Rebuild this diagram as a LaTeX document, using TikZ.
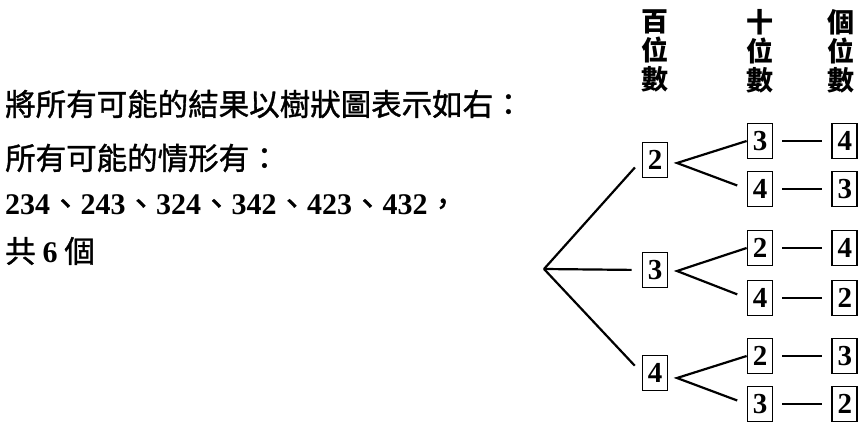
\documentclass[tikz,border=0pt]{standalone}
\usepackage{fontspec}
\setmainfont{Liberation Serif}
\newfontfamily\cjk{Noto Sans CJK TC}[FakeBold=1.2]
\newfontfamily\cjkhead{Noto Sans CJK TC}
\usetikzlibrary{positioning}

\begin{document}
\begin{tikzpicture}[x=1pt,y=-1pt]
       \newcommand{\colsep}[0]{58pt}
       \newcommand{\forksep}[0]{9pt}

       \newcommand{\num}[1]{{\rmfamily\bfseries\fontsize{30}{30}\selectfont #1}}

       \tikzstyle{digitbox} = [rectangle, draw, line width=1.8pt, minimum width=25pt, minimum height=35pt, inner sep=0pt, font=\fontsize{29}{29}\selectfont\bfseries]
       \tikzstyle{colhead}  = [align=center, inner sep=0pt, font=\cjkhead\bfseries\fontsize{27}{29}\selectfont]
       \tikzstyle{textline} = [anchor=west, inner sep=0pt, font=\cjk\fontsize{30.5}{30.5}\selectfont]
       \tikzstyle{branch}   = [line width=2.2pt, shorten >=10pt]
       \tikzstyle{link}     = [line width=2pt, shorten <=\forksep, shorten >=\forksep]

       \useasboundingbox (0,0) rectangle (864,428);

       % text on the left
       \node [textline] (intro) at (5,104) {將所有可能的結果以樹狀圖表示如右：};
       \node [textline] (cases) at (5,158) {所有可能的情形有：};
       \node [textline] (list)  at (5,205) {\num{234}、\num{243}、\num{324}、\num{342}、\num{423}、\num{432}，};
       \node [textline] (total) at (5,251) {共 \num{6} 個};

       % column heads
       \node [colhead] (hundreds) at (655,51) {百\\位\\數};
       \node [colhead] (tens)     at (760,51) {十\\位\\數};
       \node [colhead] (ones)     at (841,51) {個\\位\\數};

       \coordinate (root) at (544,269);

       % first digit 2
       \node [digitbox] (h2) at (655,160) {2};
       \coordinate (f2) at (677,163);
       \node [digitbox] (t23) at (760,141) {3};
       \node [digitbox, right = \colsep of t23] (o234) {4};
       \node [digitbox] (t24) at (760,189) {4};
       \node [digitbox, right = \colsep of t24] (o243) {3};

       % first digit 3
       \node [digitbox] (h3) at (655,270) {3};
       \coordinate (f3) at (677,271);
       \node [digitbox] (t32) at (760,248) {2};
       \node [digitbox, right = \colsep of t32] (o324) {4};
       \node [digitbox] (t34) at (760,298) {4};
       \node [digitbox, right = \colsep of t34] (o342) {2};

       % first digit 4
       \node [digitbox] (h4) at (655,373) {4};
       \coordinate (f4) at (677,378);
       \node [digitbox] (t42) at (760,356) {2};
       \node [digitbox, right = \colsep of t42] (o423) {3};
       \node [digitbox] (t43) at (760,404) {3};
       \node [digitbox, right = \colsep of t43] (o432) {2};

       \draw [branch] (root) -- (h2.west);
       \draw [branch] (root) -- (h3.west);
       \draw [branch] (root) -- (h4.west);

       \draw [branch] (t23.west) -- (f2) -- (t24.west);
       \draw [branch] (t32.west) -- (f3) -- (t34.west);
       \draw [branch] (t42.west) -- (f4) -- (t43.west);

       \draw [link] (t23) -- (o234);
       \draw [link] (t24) -- (o243);
       \draw [link] (t32) -- (o324);
       \draw [link] (t34) -- (o342);
       \draw [link] (t42) -- (o423);
       \draw [link] (t43) -- (o432);
\end{tikzpicture}
\end{document}
